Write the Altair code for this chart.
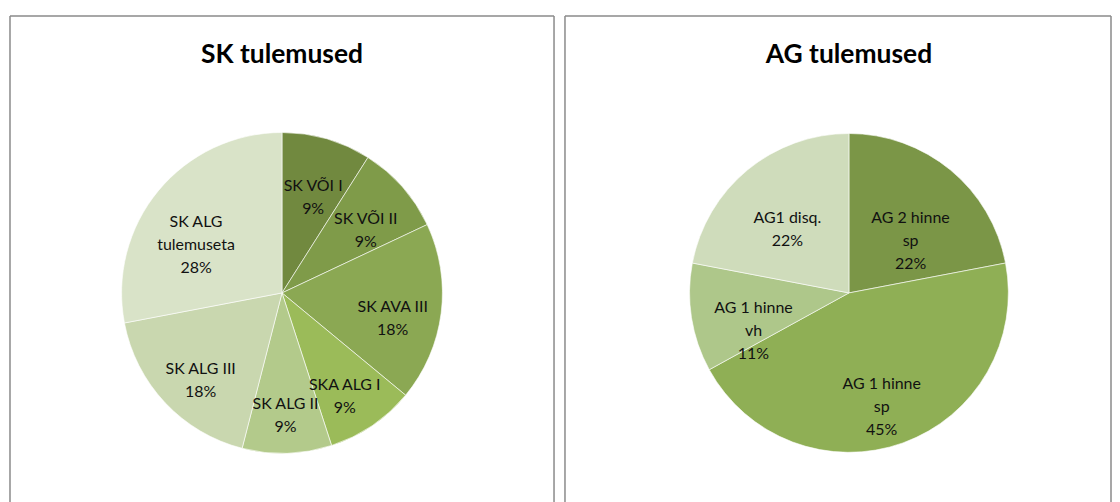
import altair as alt
import pandas as pd

# ---- data ----
sk_title = "SK tulemused"
sk_categories = ["SK VÕI I", "SK VÕI II", "SK AVA III", "SKA ALG I", "SK ALG II", "SK ALG III", "SK ALG tulemuseta"]
sk_label_names = ["SK VÕI I", "SK VÕI II", "SK AVA III", "SKA ALG I", "SK ALG II", "SK ALG III", "SK ALG\ntulemuseta"]
sk_values = [9, 9, 18, 9, 9, 18, 28]
sk_colors = ["#71893F", "#7F9B49", "#8BA853", "#9BBB59", "#B3CA8B", "#C9D7AF", "#D9E3C8"]

ag_title = "AG tulemused"
ag_categories = ["AG 2 hinne sp", "AG 1 hinne sp", "AG 1 hinne vh", "AG1 disq."]
ag_label_names = ["AG 2 hinne\nsp", "AG 1 hinne\nsp", "AG 1 hinne\nvh", "AG1 disq."]
ag_values = [22, 45, 11, 22]
ag_colors = ["#7B9647", "#8FAF55", "#AEC78A", "#CFDCBB"]

FONT = "Lato"
H = 472


def panel(title, cats, names, vals, colors, w, cx, cy, r, label_r):
    df = pd.DataFrame({
        "category": cats,
        "name": names,
        "value": vals,
        "order": list(range(len(cats))),
    })
    df["label"] = df["name"] + "\n" + df["value"].astype(str) + "%"

    base = alt.Chart(df).encode(
        theta=alt.Theta("value:Q", stack=True),
        order=alt.Order("order:Q"),
    )
    arc = base.mark_arc(outerRadius=r, stroke="white", strokeWidth=0.6).encode(
        color=alt.Color("category:N", scale=alt.Scale(domain=cats, range=colors), legend=None),
        x=alt.value(cx),
        y=alt.value(cy),
    )
    text = base.mark_text(
        radius=label_r, font=FONT, fontSize=16, lineBreak="\n", lineHeight=23,
        color="#111111", baseline="middle", align="center",
    ).encode(text="label:N", x=alt.value(cx), y=alt.value(cy))

    tdf = pd.DataFrame({"t": [title]})
    title_mark = alt.Chart(tdf).mark_text(
        font=FONT, fontSize=26.5, fontWeight="bold", color="black", baseline="middle", align="center"
    ).encode(text="t:N", x=alt.value(cx), y=alt.value(39))

    bdf = pd.DataFrame({"k": [0]})
    bcolor = "#8a8a8a"
    left_rule = alt.Chart(bdf).mark_rule(color=bcolor, strokeWidth=1.5).encode(
        x=alt.value(0), y=alt.value(0), y2=alt.value(H + 40))
    right_rule = alt.Chart(bdf).mark_rule(color=bcolor, strokeWidth=1.5).encode(
        x=alt.value(w), y=alt.value(0), y2=alt.value(H + 40))
    top_rule = alt.Chart(bdf).mark_rule(color=bcolor, strokeWidth=1.5).encode(
        x=alt.value(0), x2=alt.value(w), y=alt.value(0))

    return alt.layer(arc, text, title_mark, left_rule, right_rule, top_rule).properties(width=w, height=H)


left = panel(sk_title, sk_categories, sk_label_names, sk_values, sk_colors, 546, 273, 278, 161, 112)
right = panel(ag_title, ag_categories, ag_label_names, ag_values, ag_colors, 548, 285, 278, 160, 97)

chart = alt.hconcat(left, right, spacing=9).resolve_scale(
    color="independent", theta="independent"
).properties(
    padding={"left": 1, "top": 6, "right": 0, "bottom": 0},
    background="white",
).configure_view(strokeWidth=0)

chart.save("out.html", embed_options={"renderer": "svg", "actions": False})
